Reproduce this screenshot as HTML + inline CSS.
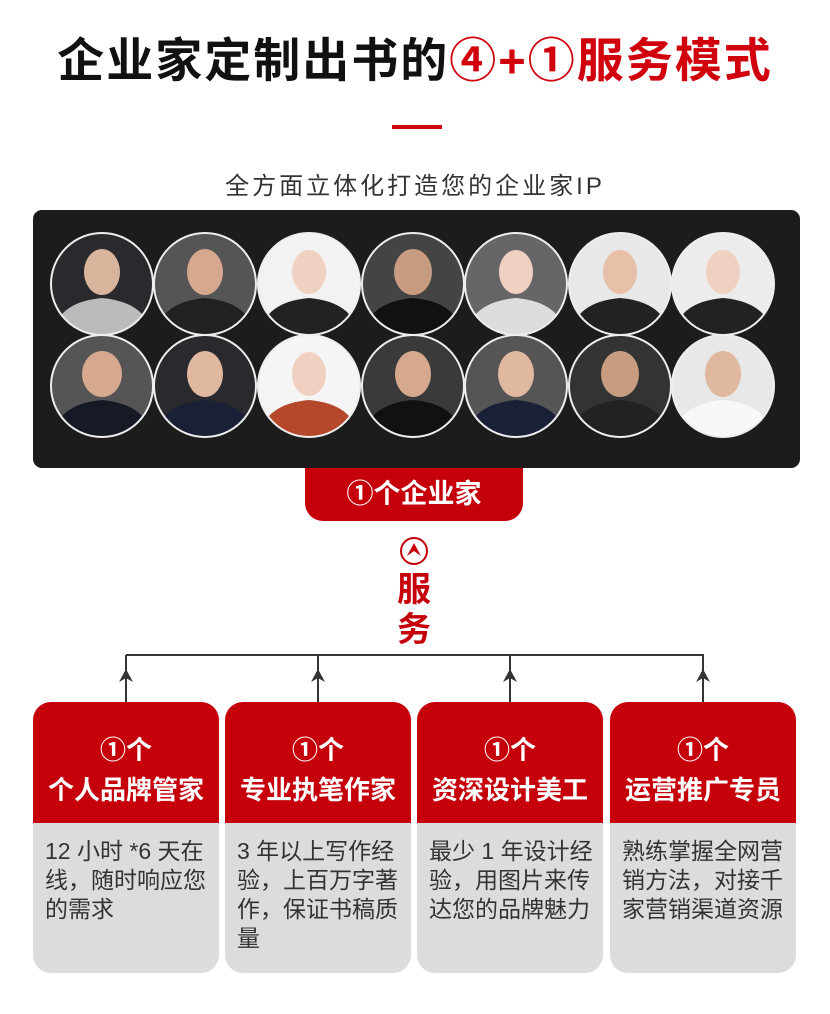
<!DOCTYPE html>
<html><head><meta charset="utf-8"><style>
body{margin:0;width:830px;height:1014px;background:#fff;position:relative;overflow:hidden;font-family:"Liberation Sans","Noto Sans CJK SC",sans-serif}
.a{position:absolute}
.title{left:0;width:830px;top:22px;text-align:center;font-size:47px;font-weight:bold;color:#111;letter-spacing:2px}
.title span{color:#d0000c}
.card{position:absolute;top:702px;width:186px;height:271px;border-radius:18px;overflow:hidden;background:#dcdcdc}
.card .h{height:121px;background:#c5000b;color:#fff;text-align:center;font-weight:bold;font-size:26px;line-height:40px;padding-top:28px;box-sizing:border-box}
.card .b{padding:14px 4px 0 12px;font-size:23px;line-height:29px;color:#333;white-space:nowrap}
</style></head><body>
<div class="a title">企业家定制出书的<span>④+①服务模式</span></div>
<div class="a" style="left:392px;top:125px;width:50px;height:4px;background:#d0000c"></div>
<div class="a" style="left:0;width:830px;top:166px;text-align:center;font-size:24px;letter-spacing:3px;color:#333">全方面立体化打造您的企业家IP</div>
<svg class="a" style="left:33px;top:210px" width="767" height="258">
<rect width="767" height="258" rx="9" fill="#1c1c1c"/>
</svg>
<svg class="a" style="left:0;top:0" width="830" height="1014">
<defs><clipPath id="cp"><circle r="51"/></clipPath></defs>
<g transform="translate(102,284)"><g clip-path="url(#cp)"><rect x="-52" y="-52" width="104" height="104" fill="#2a2a2e"/><ellipse cy="-12" rx="18" ry="23" fill="#d9b49c"/><path d="M-50 52 Q-45 18 0 14 Q45 18 50 52Z" fill="#bbb"/></g><circle r="51" fill="none" stroke="#eee" stroke-width="2"/></g>
<g transform="translate(205,284)"><g clip-path="url(#cp)"><rect x="-52" y="-52" width="104" height="104" fill="#555"/><ellipse cy="-12" rx="18" ry="23" fill="#d6a98e"/><path d="M-50 52 Q-45 18 0 14 Q45 18 50 52Z" fill="#222"/></g><circle r="51" fill="none" stroke="#eee" stroke-width="2"/></g>
<g transform="translate(309,284)"><g clip-path="url(#cp)"><rect x="-52" y="-52" width="104" height="104" fill="#f2f2f2"/><ellipse cy="-12" rx="17" ry="22" fill="#f0d0c0"/><path d="M-50 52 Q-45 18 0 14 Q45 18 50 52Z" fill="#222"/></g><circle r="51" fill="none" stroke="#eee" stroke-width="2"/></g>
<g transform="translate(413,284)"><g clip-path="url(#cp)"><rect x="-52" y="-52" width="104" height="104" fill="#444"/><ellipse cy="-12" rx="19" ry="23" fill="#c89c80"/><path d="M-50 52 Q-45 18 0 14 Q45 18 50 52Z" fill="#111"/></g><circle r="51" fill="none" stroke="#eee" stroke-width="2"/></g>
<g transform="translate(516,284)"><g clip-path="url(#cp)"><rect x="-52" y="-52" width="104" height="104" fill="#666"/><ellipse cy="-12" rx="17" ry="22" fill="#f0d0c0"/><path d="M-50 52 Q-45 18 0 14 Q45 18 50 52Z" fill="#ddd"/></g><circle r="51" fill="none" stroke="#eee" stroke-width="2"/></g>
<g transform="translate(620,284)"><g clip-path="url(#cp)"><rect x="-52" y="-52" width="104" height="104" fill="#e8e8e8"/><ellipse cy="-12" rx="17" ry="22" fill="#e8c0a8"/><path d="M-50 52 Q-45 18 0 14 Q45 18 50 52Z" fill="#222"/></g><circle r="51" fill="none" stroke="#eee" stroke-width="2"/></g>
<g transform="translate(723,284)"><g clip-path="url(#cp)"><rect x="-52" y="-52" width="104" height="104" fill="#ececec"/><ellipse cy="-12" rx="17" ry="22" fill="#f0d0c0"/><path d="M-50 52 Q-45 18 0 14 Q45 18 50 52Z" fill="#222"/></g><circle r="51" fill="none" stroke="#eee" stroke-width="2"/></g>
<g transform="translate(102,386)"><g clip-path="url(#cp)"><rect x="-52" y="-52" width="104" height="104" fill="#555"/><ellipse cy="-12" rx="20" ry="23" fill="#d6a98e"/><path d="M-50 52 Q-45 18 0 14 Q45 18 50 52Z" fill="#151a25"/></g><circle r="51" fill="none" stroke="#eee" stroke-width="2"/></g>
<g transform="translate(205,386)"><g clip-path="url(#cp)"><rect x="-52" y="-52" width="104" height="104" fill="#2a2a2e"/><ellipse cy="-12" rx="18" ry="23" fill="#e0b8a0"/><path d="M-50 52 Q-45 18 0 14 Q45 18 50 52Z" fill="#1a2035"/></g><circle r="51" fill="none" stroke="#eee" stroke-width="2"/></g>
<g transform="translate(309,386)"><g clip-path="url(#cp)"><rect x="-52" y="-52" width="104" height="104" fill="#f5f5f5"/><ellipse cy="-12" rx="17" ry="22" fill="#f0d0c0"/><path d="M-50 52 Q-45 18 0 14 Q45 18 50 52Z" fill="#b5482a"/></g><circle r="51" fill="none" stroke="#eee" stroke-width="2"/></g>
<g transform="translate(413,386)"><g clip-path="url(#cp)"><rect x="-52" y="-52" width="104" height="104" fill="#3a3a3a"/><ellipse cy="-12" rx="18" ry="23" fill="#d6a98e"/><path d="M-50 52 Q-45 18 0 14 Q45 18 50 52Z" fill="#111"/></g><circle r="51" fill="none" stroke="#eee" stroke-width="2"/></g>
<g transform="translate(516,386)"><g clip-path="url(#cp)"><rect x="-52" y="-52" width="104" height="104" fill="#555"/><ellipse cy="-12" rx="18" ry="23" fill="#e0b8a0"/><path d="M-50 52 Q-45 18 0 14 Q45 18 50 52Z" fill="#1a2035"/></g><circle r="51" fill="none" stroke="#eee" stroke-width="2"/></g>
<g transform="translate(620,386)"><g clip-path="url(#cp)"><rect x="-52" y="-52" width="104" height="104" fill="#333"/><ellipse cy="-12" rx="19" ry="23" fill="#c89c80"/><path d="M-50 52 Q-45 18 0 14 Q45 18 50 52Z" fill="#222"/></g><circle r="51" fill="none" stroke="#eee" stroke-width="2"/></g>
<g transform="translate(723,386)"><g clip-path="url(#cp)"><rect x="-52" y="-52" width="104" height="104" fill="#e8e8e8"/><ellipse cy="-12" rx="18" ry="23" fill="#e0b8a0"/><path d="M-50 52 Q-45 18 0 14 Q45 18 50 52Z" fill="#f8f8f8"/></g><circle r="51" fill="none" stroke="#eee" stroke-width="2"/></g>
<path d="M126 655H704M126 655V702M318 655V702M510 655V702M703 655V702" stroke="#333" stroke-width="2" fill="none"/>
<path d="M126 669l-7 13 7-4 7 4zM318 669l-7 13 7-4 7 4zM510 669l-7 13 7-4 7 4zM703 669l-7 13 7-4 7 4z" fill="#333"/>
<circle cx="414" cy="551" r="13" fill="none" stroke="#c5000b" stroke-width="2"/>
<path d="M414 543l-7 13 7-5 7 5z" fill="#c5000b"/>
</svg>
<div class="a" style="left:305px;top:468px;width:218px;height:53px;background:#c5000b;border-radius:0 0 18px 18px;color:#fff;font-weight:bold;font-size:27px;text-align:center;line-height:53px">①个企业家</div>
<div class="a" style="left:394px;top:570px;width:40px;text-align:center;color:#c5000b;font-weight:bold;font-size:34px;line-height:40px">服<br>务</div>
<div class="card" style="left:33px"><div class="h">①个<br>个人品牌管家</div><div class="b">12 小时 *6 天在<br>线，随时响应您<br>的需求</div></div>
<div class="card" style="left:225px"><div class="h">①个<br>专业执笔作家</div><div class="b">3 年以上写作经<br>验，上百万字著<br>作，保证书稿质<br>量</div></div>
<div class="card" style="left:417px"><div class="h">①个<br>资深设计美工</div><div class="b">最少 1 年设计经<br>验，用图片来传<br>达您的品牌魅力</div></div>
<div class="card" style="left:610px"><div class="h">①个<br>运营推广专员</div><div class="b">熟练掌握全网营<br>销方法，对接千<br>家营销渠道资源</div></div>
</body></html>
